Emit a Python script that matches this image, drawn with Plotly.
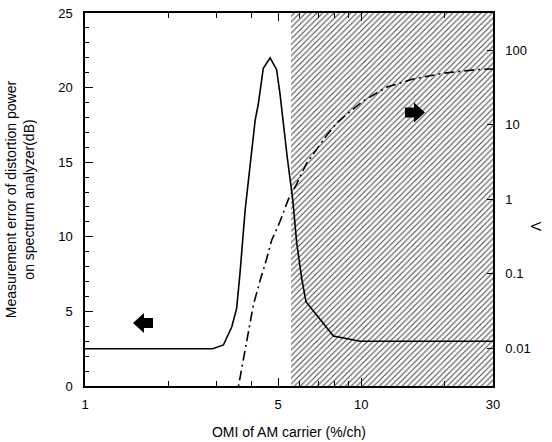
import plotly.graph_objects as go

# solid curve: measurement error (dB), left axis
omi_err = [1.0, 2.9, 3.17, 3.40, 3.54, 3.64, 3.80, 3.98, 4.13, 4.24, 4.42, 4.68,
           4.94, 5.08, 5.22, 5.40, 5.65, 5.84, 6.09, 6.31, 7.93, 9.9, 30.0]
err_db = [2.5, 2.5, 2.75, 3.97, 5.2, 7.55, 11.8, 15.2, 17.8, 18.9, 21.3, 22.0,
          21.2, 19.6, 17.6, 15.3, 12.5, 9.6, 7.2, 5.65, 3.35, 3.0, 3.0]

# dash-dot curve: Lambda, right axis (log)
omi_lam = [3.52, 4.07, 4.34, 4.48, 4.74, 5.08, 5.45, 5.84, 6.33, 6.8, 7.5, 8.15,
           9.1, 10.2, 12.4, 15.4, 19.8, 26.2, 30.0]
lam = [0.002, 0.038, 0.09, 0.13, 0.28, 0.5, 1.0, 1.6, 3.0, 4.4, 7.2, 10.5,
       15, 21, 32, 41, 49, 55, 56]

hatch_start = 5.57
x_labels = [1, 5, 10, 30]
x_minor = [2, 3, 4, 6, 7, 8, 9, 20]
y2_ticks = [0.01, 0.1, 1, 10, 100]

fig = go.Figure()

fig.add_trace(go.Scatter(
    x=[hatch_start, 30, 30, hatch_start], y=[0, 0, 25, 25],
    fill="toself", mode="lines", line=dict(width=0),
    fillcolor="rgba(0,0,0,0)",
    fillpattern=dict(shape="/", fgcolor="#444", bgcolor="white", size=4, solidity=0.25),
    hoverinfo="skip", showlegend=False))

fig.add_trace(go.Scatter(x=omi_err, y=err_db, mode="lines",
                         line=dict(color="black", width=1.6), showlegend=False))

fig.add_trace(go.Scatter(x=omi_lam, y=lam, mode="lines", yaxis="y2",
                         line=dict(color="black", width=1.6, dash="10px,4px,2px,4px"),
                         showlegend=False))

# plot area in pixels
L, R, T, B = 85, 493, 13, 386


def arrow(cx, cy, direction):
    # block arrow polygon around a pixel centre, returned in paper coords
    w, h, bh, head = 20, 20, 10, 11
    s = 1 if direction == "right" else -1
    pts = [(-w / 2, -bh / 2), (w / 2 - head, -bh / 2), (w / 2 - head, -h / 2),
           (w / 2, 0), (w / 2 - head, h / 2), (w / 2 - head, bh / 2), (-w / 2, bh / 2)]
    path = ""
    for i, (dx, dy) in enumerate(pts):
        px = cx + s * dx
        py = cy + dy
        path += ("M" if i == 0 else "L") + f"{(px - L) / (R - L):.4f},{(B - py) / (B - T):.4f} "
    return dict(type="path", path=path + "Z", xref="paper", yref="paper",
                fillcolor="black", line=dict(width=0))


fig.update_layout(
    template="none",
    width=552, height=442,
    margin=dict(l=L, r=552 - R, t=T, b=442 - B, autoexpand=False),
    paper_bgcolor="white", plot_bgcolor="white",
    font=dict(family="Liberation Sans, Arial, sans-serif", size=13, color="black"),
    xaxis=dict(type="log", range=[0, 1.4771], automargin=False,
               tickvals=x_labels, ticktext=[str(v) for v in x_labels],
               ticks="inside", ticklen=8, tickcolor="black", tickwidth=1,
               minor=dict(tickvals=x_minor, ticks="inside", ticklen=5, tickcolor="black"),
               showline=True, linecolor="black", linewidth=1.5, mirror="ticks",
               showgrid=False, zeroline=False, ticklabelstandoff=6,
               title=dict(text="OMI of AM carrier (%/ch)", font=dict(size=14), standoff=16)),
    yaxis=dict(range=[0, 25], tickvals=[0, 5, 10, 15, 20, 25], automargin=False,
               ticks="inside", ticklen=8, tickcolor="black",
               minor=dict(dtick=1, ticks="inside", ticklen=4, tickcolor="black"),
               showline=True, linecolor="black", linewidth=1.5,
               showgrid=False, zeroline=False, ticklabelstandoff=8,
               title=dict(text="Measurement error of distortion power<br>on spectrum analyzer(dB)",
                          font=dict(size=14), standoff=20)),
    yaxis2=dict(type="log", range=[-2.51, 2.5], overlaying="y", side="right",
                automargin=False,
                tickvals=y2_ticks, ticktext=["0.01", "0.1", "1", "10", "100"],
                ticks="inside", ticklen=6, tickcolor="black",
                showline=True, linecolor="black", linewidth=1.5,
                showgrid=False, zeroline=False, ticklabelstandoff=8),
    shapes=[arrow(143, 323, "left"), arrow(415, 112.5, "right")],
    annotations=[dict(text="Λ", x=(546 - L) / (R - L), y=(B - 226) / (B - T),
                      xref="paper", yref="paper", showarrow=False, textangle=-90,
                      font=dict(size=14))],
)

fig.write_html("out.html", config={"displayModeBar": False},
               post_script="document.body.style.margin='0';")
